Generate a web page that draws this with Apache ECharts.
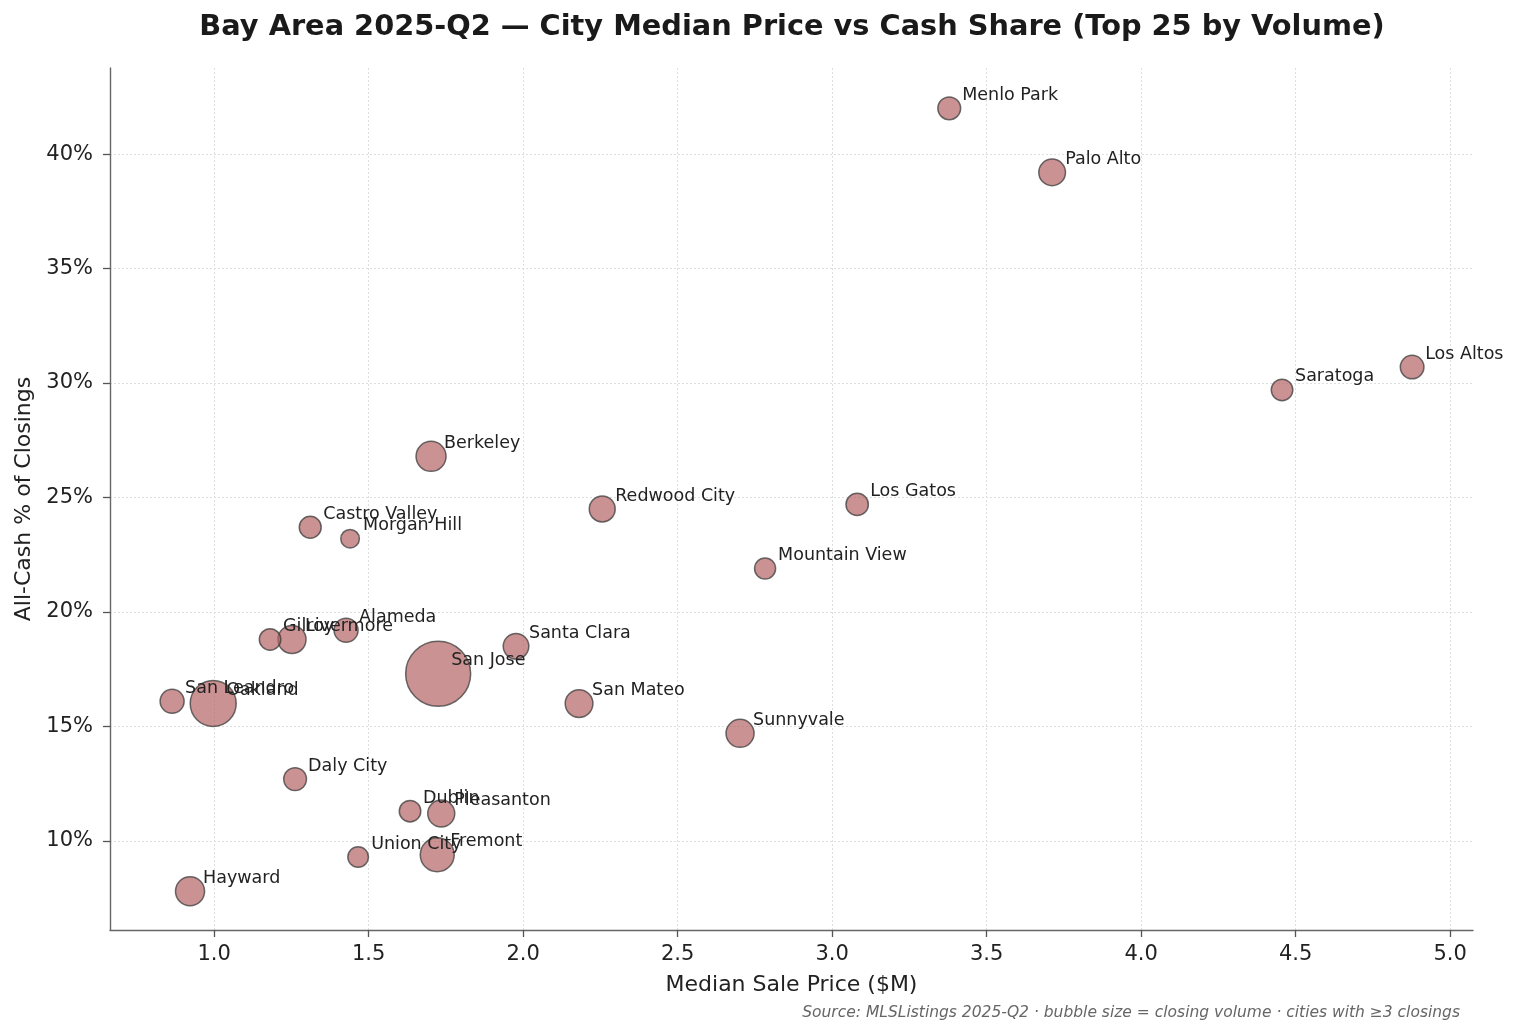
<!DOCTYPE html>
<html>
<head>
<meta charset="utf-8">
<title>Bay Area 2025-Q2 — City Median Price vs Cash Share</title>
<script src="https://cdn.jsdelivr.net/npm/echarts@6/dist/echarts.min.js"></script>
<style>
  html, body { margin: 0; padding: 0; background: #fff; }
  #chart { width: 1520px; height: 1036px; }
</style>
</head>
<body>
<div id="chart"></div>
<script>
// cities, ordered by closing volume
var cities = ['San Jose', 'Oakland', 'Fremont', 'Berkeley', 'Hayward', 'Livermore', 'San Mateo',
  'Sunnyvale', 'Pleasanton', 'Palo Alto', 'Redwood City', 'Santa Clara', 'Alameda', 'San Leandro',
  'Los Altos', 'Menlo Park', 'Daly City', 'Los Gatos', 'Castro Valley', 'Saratoga', 'Gilroy',
  'Dublin', 'Mountain View', 'Union City', 'Morgan Hill'];
// median sale price, $M
var medianPrice = [1.725, 0.997, 1.722, 1.702, 0.922, 1.252, 2.181,
  2.702, 1.735, 3.712, 2.256, 1.977, 1.427, 0.864,
  4.877, 3.379, 1.262, 3.081, 1.311, 4.456, 1.181,
  1.634, 2.783, 1.466, 1.440];
// all-cash share of closings, %
var cashShare = [17.3, 16.0, 9.4, 26.8, 7.8, 18.8, 16.0,
  14.7, 11.2, 39.2, 24.5, 18.5, 19.2, 16.1,
  30.7, 42.0, 12.7, 24.7, 23.7, 29.7, 18.8,
  11.3, 21.9, 9.3, 23.2];
// closings in the quarter
var volume = [1100, 550, 300, 235, 220, 205, 200,
  205, 190, 185, 175, 170, 150, 150,
  145, 135, 135, 130, 125, 120, 120,
  120, 115, 110, 90];

var xTicks = [1.0, 1.5, 2.0, 2.5, 3.0, 3.5, 4.0, 4.5, 5.0];
var yTicks = [10, 15, 20, 25, 30, 35, 40];

var points = [];
for (var i = 0; i < cities.length; i++) {
  points.push([medianPrice[i], cashShare[i], volume[i], cities[i]]);
}

var font = '"DejaVu Sans", "Noto Sans", sans-serif';
var chart = echarts.init(document.getElementById('chart'), null, { renderer: 'canvas' });

chart.setOption({
  backgroundColor: '#ffffff',
  animation: false,
  textStyle: { fontFamily: font },
  grid: { left: 110, right: 47, top: 68, bottom: 106, containLabel: false },
  xAxis: {
    type: 'value',
    min: 0.663,
    max: 5.074,
    name: 'Median Sale Price ($M)',
    nameLocation: 'middle',
    nameGap: 44,
    nameTextStyle: { fontSize: 22, color: '#222' },
    axisLine: { show: true, lineStyle: { color: '#666', width: 1.4 } },
    axisTick: { show: true, length: 7, customValues: xTicks, lineStyle: { color: '#555', width: 1.3 } },
    axisLabel: {
      customValues: xTicks, fontSize: 21, color: '#222', margin: 14,
      formatter: function(v) { return v.toFixed(1); }
    },
    splitLine: { show: true, lineStyle: { type: [2, 2], color: '#dedede', width: 1 } }
  },
  yAxis: {
    type: 'value',
    min: 6.11,
    max: 43.76,
    name: 'All-Cash % of Closings',
    nameLocation: 'middle',
    nameGap: 74,
    nameTextStyle: { fontSize: 22, color: '#222' },
    axisLine: { show: true, lineStyle: { color: '#666', width: 1.4 } },
    axisTick: { show: true, length: 7, customValues: yTicks, lineStyle: { color: '#555', width: 1.3 } },
    axisLabel: {
      customValues: yTicks, fontSize: 21, color: '#222', margin: 17,
      formatter: function(v) { return Math.round(v) + '%'; }
    },
    splitLine: { show: true, lineStyle: { type: [2, 2], color: '#dedede', width: 1 } }
  },
  series: [{
    type: 'scatter',
    data: points,
    symbol: 'circle',
    symbolSize: function(d) { return Math.sqrt(d[2]) * 1.96; },
    itemStyle: {
      color: 'rgba(180,100,100,0.7)',
      borderColor: 'rgba(60,60,60,0.75)',
      borderWidth: 1.5,
      opacity: 1
    },
    label: {
      show: true,
      position: 'inside',
      align: 'left',
      verticalAlign: 'middle',
      offset: [13, -13],
      fontSize: 17.5,
      color: '#222',
      formatter: function(p) { return p.value[3]; }
    },
    emphasis: { disabled: true },
    z: 3
  }],
  graphic: [{
    type: 'text',
    x: 792,
    y: 28,
    style: {
      text: 'Bay Area 2025-Q2 — City Median Price vs Cash Share (Top 25 by Volume)',
      font: 'bold 28.8px ' + font,
      fill: '#1a1a1a',
      textAlign: 'center',
      textVerticalAlign: 'middle'
    }
  }, {
    type: 'text',
    x: 1460,
    y: 1013,
    style: {
      text: 'Source: MLSListings 2025-Q2 · bubble size = closing volume · cities with ≥3 closings',
      font: 'italic 15.5px ' + font,
      fill: '#666',
      textAlign: 'right',
      textVerticalAlign: 'middle'
    }
  }]
});
</script>
</body>
</html>
